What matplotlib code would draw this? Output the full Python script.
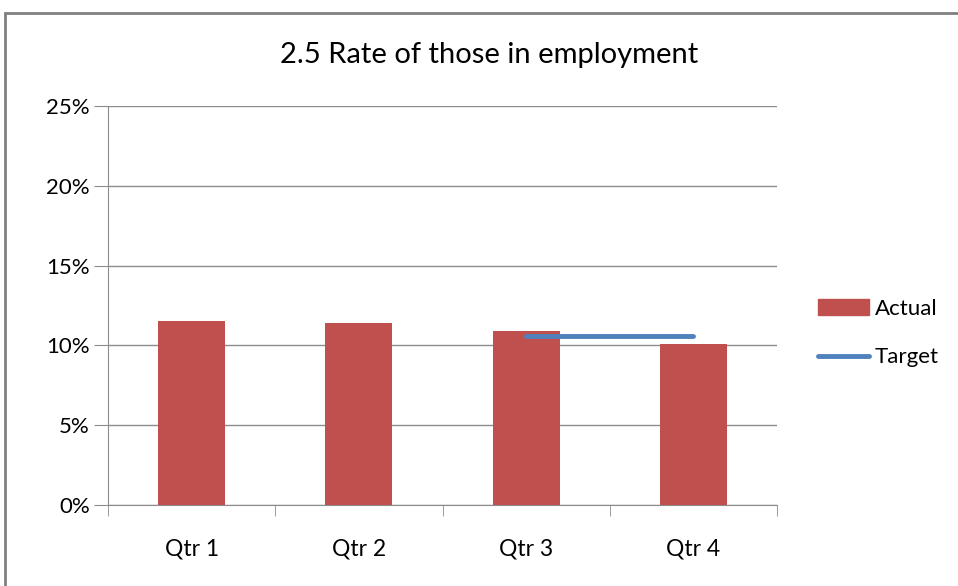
import numpy as np
import matplotlib.pyplot as plt
from matplotlib.patches import Rectangle
from matplotlib.lines import Line2D

quarters = ['Qtr 1', 'Qtr 2', 'Qtr 3', 'Qtr 4']
actual = [11.5, 11.4, 10.9, 10.1]
target = [np.nan, np.nan, 10.6, 10.6]

plt.rcParams['font.family'] = ['Lato', 'DejaVu Sans']

fig = plt.figure(figsize=(9.58, 5.86), dpi=100)
# outer chart frame
fig.patches.append(Rectangle((5/958, -0.1), 1.0, 1.1 - 13/586, transform=fig.transFigure,
                             fill=False, edgecolor='#808080', linewidth=2))

ax = fig.add_axes([108/958, 1 - 505/586, (777-108)/958, (505-106)/586])
x = np.arange(len(quarters))
ax.bar(x, actual, width=0.4, color='#C0504D', zorder=3, label='Actual')
ax.plot(x, target, color='#4F81BD', linewidth=3.5, solid_capstyle='round', zorder=4, label='Target')

ax.set_xlim(-0.5, 3.5)
ax.set_ylim(0, 25)
ax.set_yticks(np.arange(0, 26, 5))
ax.set_yticklabels(['%d%%' % v for v in range(0, 26, 5)], fontsize=16)
ax.yaxis.grid(True, color='#8c8c8c', linewidth=1, zorder=0)

ax.set_xticks(x)
ax.set_xticklabels(quarters, fontsize=16.5)
ax.set_xticks(np.arange(-0.5, 4, 1), minor=True)
ax.tick_params(axis='x', which='major', length=0, pad=24)
ax.tick_params(axis='x', which='minor', length=8, color='#8c8c8c', direction='out')
ax.tick_params(axis='y', length=10, color='#8c8c8c', direction='out', pad=3)

for s in ['top', 'right']:
    ax.spines[s].set_visible(False)
for s in ['left', 'bottom']:
    ax.spines[s].set_color('#8c8c8c')

fig.text(489/958, 1 - 55/586, '2.5 Rate of those in employment', ha='center', va='center', fontsize=21)

handles = [Rectangle((0, 0), 1, 1, color='#C0504D'),
           Line2D([], [], color='#4F81BD', linewidth=3.5, solid_capstyle='round')]
fig.legend(handles, ['Actual', 'Target'], loc='center left', bbox_to_anchor=(818/958, 1 - 333/586),
           frameon=False, fontsize=16, handlelength=2.3, handletextpad=0.25, labelspacing=1.3,
           borderpad=0, borderaxespad=0)

fig.savefig('out.png', dpi=100)
